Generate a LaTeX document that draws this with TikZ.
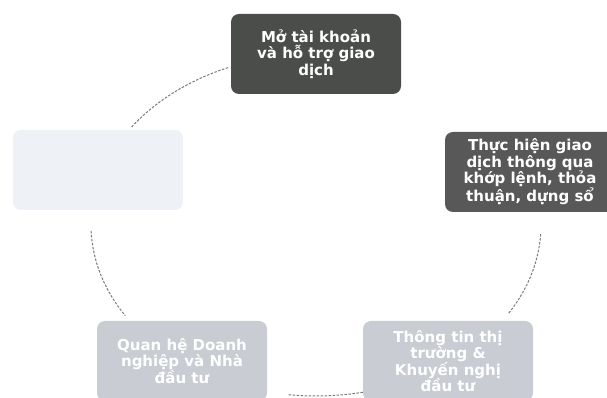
\documentclass[tikz,border=0pt]{standalone}
\usepackage{fontspec}
\setmainfont{DejaVu Sans}
\begin{document}
\begin{tikzpicture}[x=1pt,y=1pt,
  box/.style={rounded corners=8pt, minimum width=170pt, minimum height=80pt,
    inner sep=0pt, align=center, font=\bfseries\fontsize{15}{16.5}\selectfont},
  darkbox/.style={box, fill=boxdark, text=white},
  midbox/.style={box, fill=boxmid, text=white},
  lightbox/.style={box, fill=boxlight, text=white},
  palebox/.style={box, fill=boxpale},
  cyc/.style={draw=arcgray, line width=1pt, dash pattern=on 2.5pt off 1.5pt}
]
\definecolor{boxdark}{HTML}{4B4D4B}
\definecolor{boxmid}{HTML}{575857}
\definecolor{boxlight}{HTML}{C9CCD3}
\definecolor{boxpale}{HTML}{EEF2F7}
\definecolor{arcgray}{HTML}{7A7A7A}
\useasboundingbox (0,0) rectangle (607,398);
\fill[white] (0,0) rectangle (607,398);
\coordinate (c) at (316,173);
% arcs
\draw[cyc] ([shift={(113:225 and 171)}]c) arc[start angle=113, end angle=145, x radius=225, y radius=171];
\draw[cyc] ([shift={(182:225 and 171)}]c) arc[start angle=182, end angle=212, x radius=225, y radius=171];
\draw[cyc] ([shift={(263:225 and 171)}]c) arc[start angle=263, end angle=284, x radius=225, y radius=171];
\draw[cyc] ([shift={(329:225 and 171)}]c) arc[start angle=329, end angle=357, x radius=225, y radius=171];
% boxes
\node[darkbox] (top) at (316,344) {Mở tài khoản\\và hỗ trợ giao\\dịch};
\node[midbox] (right) at (530,226) {Thực hiện giao\\dịch thông qua\\khớp lệnh, thỏa\\thuận, dựng sổ};
\node[lightbox] (br) at (448,37) {Thông tin thị\\trường \&\\Khuyến nghị\\đầu tư};
\node[lightbox] (bl) at (182,37) {Quan hệ Doanh\\nghiệp và Nhà\\đầu tư};
\node[palebox] (left) at (98,228) {};
\end{tikzpicture}
\end{document}
